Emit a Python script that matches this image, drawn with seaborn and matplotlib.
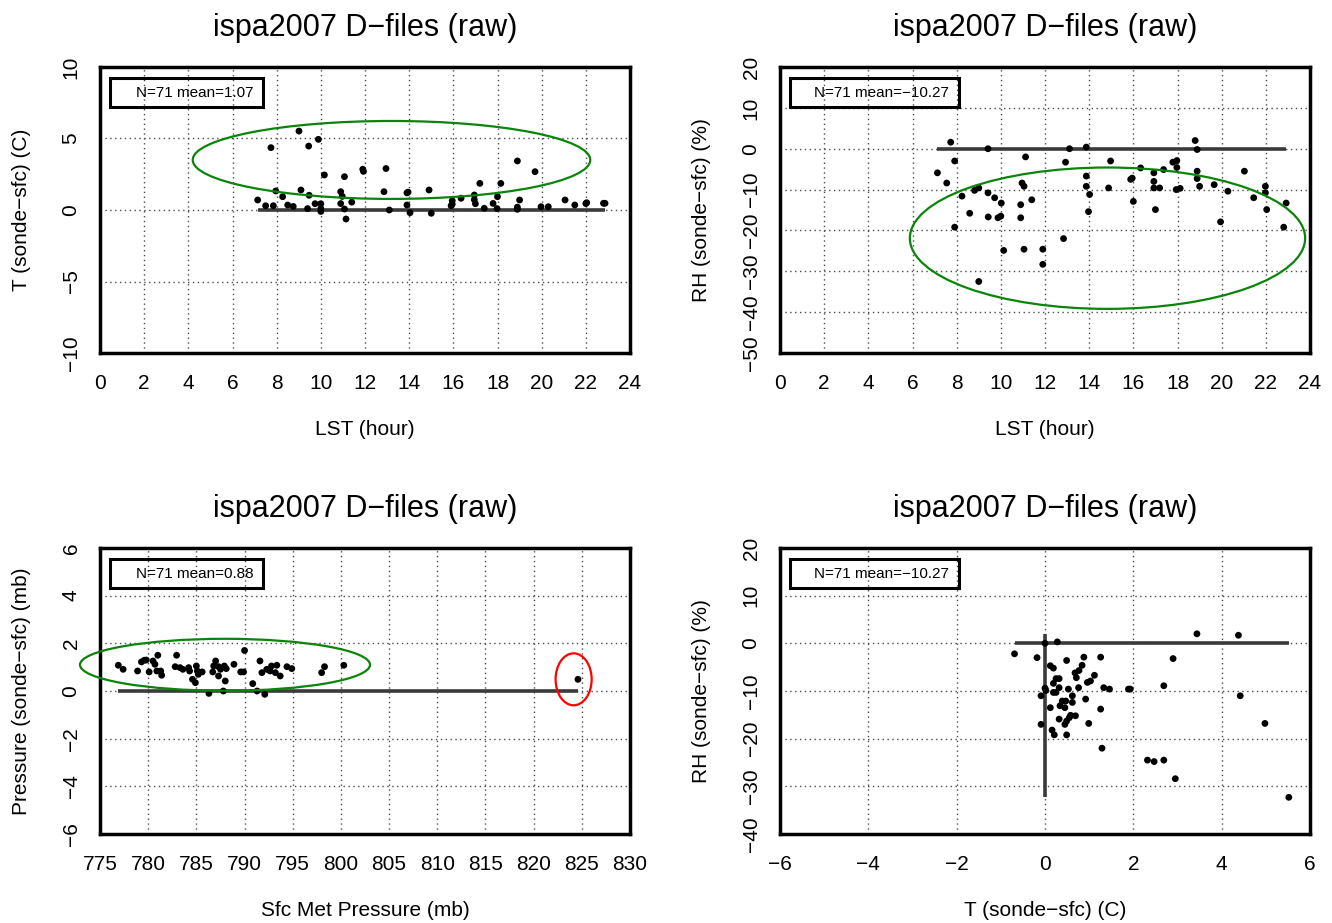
import numpy as np
import pandas as pd
import matplotlib
matplotlib.use("Agg")
import matplotlib.pyplot as plt
from matplotlib.patches import Ellipse, Rectangle
import seaborn as sns

# ---- data ----
# panel 1: T difference vs local solar time
t_hour = [7.14, 7.50, 7.74, 7.85, 7.96, 8.27, 8.50, 8.75, 9.01, 9.10, 9.40, 9.45, 9.47,
          9.74, 9.89, 10.00, 10.00, 10.00, 10.16, 10.90, 10.97, 10.90, 11.07, 11.07, 11.14,
          11.40, 11.90, 11.93, 12.86, 12.95, 13.10, 13.90, 13.95, 13.90, 14.04, 14.90, 15.00,
          15.90, 15.95, 15.95, 16.35, 16.95, 16.95, 17.00, 17.20, 17.40, 17.80, 18.00, 17.98,
          18.15, 18.90, 19.00, 18.90, 18.90, 19.70, 19.97, 20.30, 21.06, 21.50, 22.04, 22.00,
          22.87, 22.80]
t_diff = [0.70, 0.30, 4.36, 0.30, 1.33, 0.93, 0.35, 0.25, 5.52, 1.40, 0.10, 4.47, 1.03,
          0.44, 4.94, 0.44, 0.10, -0.10, 2.45, 1.28, 0.95, 0.45, 2.33, 0.07, -0.63,
          0.55, 2.85, 2.70, 1.28, 2.90, 0.00, 1.20, 1.25, 0.35, -0.19, 1.40, -0.23,
          0.30, 0.65, 0.40, 0.82, 1.05, 0.72, 0.44, 1.86, 0.12, 0.46, 0.93, 0.10,
          1.86, 3.43, 0.70, 0.20, 0.05, 2.68, 0.23, 0.23, 0.70, 0.35, 0.51, 0.45,
          0.47, 0.47]

# panel 2: RH difference vs local solar time
rh_hour = [7.73, 9.42, 7.91, 7.13, 7.55, 11.12, 8.24, 8.81, 9.00, 9.42, 9.72, 10.02, 8.59,
           9.43, 9.87, 10.00, 10.90, 10.90, 10.96, 11.05, 11.40, 7.91, 10.13, 11.05, 11.90,
           11.90, 9.00, 12.84, 12.93, 13.11, 13.87, 13.87, 13.87, 14.02, 13.97, 14.97, 14.88,
           15.88, 15.95, 16.00, 16.33, 16.93, 16.93, 16.93, 17.19, 17.00, 17.37, 17.79, 17.97,
           17.97, 17.94, 18.12, 18.80, 18.89, 18.89, 18.89, 19.00, 19.66, 19.95, 20.28, 21.03,
           21.45, 21.98, 21.98, 22.04, 22.92, 22.81]
rh_diff = [1.6, 0.0, -3.0, -5.9, -8.4, -2.0, -11.6, -10.2, -9.6, -10.8, -12.0, -13.3, -15.8,
           -16.7, -16.9, -16.5, -13.7, -16.9, -8.4, -9.2, -12.5, -19.2, -24.9, -24.6, -24.6,
           -28.3, -32.5, -22.0, -3.3, 0.0, 0.4, -6.7, -9.2, -11.2, -15.4, -3.0, -9.6,
           -7.5, -7.2, -12.9, -4.7, -5.9, -8.0, -9.6, -9.6, -14.9, -5.1, -3.3, -2.9,
           -4.6, -10.0, -9.7, 2.0, -0.2, -5.5, -7.3, -9.2, -8.8, -17.9, -10.4, -5.5,
           -12.0, -9.2, -10.8, -14.9, -13.3, -19.2]

# panel 3: pressure difference vs surface met pressure
sfc_pres = [776.9, 777.4, 778.9, 779.3, 779.6, 779.8, 780.1, 780.5, 780.7, 781.0, 780.9,
            781.3, 781.4, 782.95, 782.8, 783.3, 783.6, 784.2, 784.3, 784.6, 784.9, 785.0,
            785.1, 785.2, 785.6, 786.3, 787.0, 786.8, 787.3, 786.7, 787.3, 787.5, 787.9,
            788.1, 788.0, 787.8, 788.9, 789.6, 789.9, 790.0, 790.85, 791.3, 792.1, 791.6,
            791.8, 792.3, 792.65, 792.8, 793.2, 793.35, 793.7, 794.4, 794.9, 798.0, 798.3,
            800.3, 824.6]
pres_diff = [1.08, 0.91, 0.84, 1.22, 1.29, 1.30, 0.80, 1.26, 1.12, 1.50, 0.84,
             0.84, 0.66, 1.50, 1.02, 0.98, 0.91, 0.98, 0.84, 0.49, 0.35, 1.05,
             0.84, 0.70, 0.80, -0.10, 1.26, 1.05, 1.02, 0.80, 0.63, 0.91, 1.05,
             0.94, 0.42, 0.00, 1.12, 0.80, 0.80, 1.70, 0.31, 0.00, -0.14, 1.26,
             0.77, 0.91, 0.84, 1.05, 0.77, 1.08, 0.63, 1.02, 0.94, 0.77, 1.02,
             1.08, 0.49]

# panel 4: RH difference vs T difference
t4 = [-0.69, -0.18, 0.28, 0.00, 3.44, 4.38, 2.90, 2.69, 4.42, 4.98, 5.52, 2.32, 2.47, 2.69,
      2.95, 1.29, 1.26, 1.26, 0.99, 1.33, 1.46, 1.89, 1.93, 0.88, 0.49, 0.12, 0.19, 0.84,
      0.77, 0.68, 0.71, 1.12, 1.03, 0.96, 0.25, 0.32, 0.19, 0.32, 0.00, 0.02, -0.09, 0.19,
      0.25, 0.53, 0.76, 0.62, 0.92, 0.39, 0.47, 0.34, 0.45, 0.62, 0.12, 0.58, 0.69, 0.55,
      0.32, 0.49, 0.45, -0.09, 0.16, 0.21, 0.49]
rh4 = [-2.2, -3.0, 0.3, 0.0, 2.0, 1.7, -3.2, -8.9, -11.0, -16.8, -32.3, -24.5, -24.8, -24.5,
       -28.4, -22.0, -2.9, -13.8, -16.8, -9.3, -9.6, -9.6, -9.6, -2.9, -3.6, -4.7, -5.2, -4.6,
       -5.7, -6.2, -7.2, -6.7, -7.9, -8.2, -7.4, -7.4, -8.4, -9.3, -9.4, -9.9, -11.0, -10.3,
       -10.3, -9.6, -9.3, -11.0, -11.7, -12.1, -12.1, -13.1, -13.5, -12.4, -13.5, -15.1, -15.2, -15.6,
       -15.9, -16.3, -17.0, -17.0, -18.2, -19.2, -19.2]

title = "ispa2007 D\u2212files (raw)"
legend_text = ["N=71 mean=1.07", "N=71 mean=\u221210.27", "N=71 mean=0.88", "N=71 mean=\u221210.27"]

# hand-drawn highlight ellipses (centre x, centre y, width, height, colour) in data units
ellipses = {
    0: [(13.2, 3.5, 18.0, 5.45, "#0a840a")],
    1: [(14.83, -21.9, 17.9, 34.6, "#0a840a")],
    2: [(787.97, 1.1, 30.1, 2.18, "#0a840a"), (824.15, 0.49, 3.74, 2.18, "red")],
}

# ---- drawing ----
sns.set_style("white")
plt.rcParams['font.family'] = ['Liberation Sans', 'DejaVu Sans']
plt.rcParams['axes.unicode_minus'] = True
for k in ["text.color", "axes.labelcolor", "xtick.color", "ytick.color"]:
    plt.rcParams[k] = "black"

fig = plt.figure(figsize=(13.32, 9.23), dpi=100)
W, H = 1332, 923
boxes = [(100, 67), (780, 67), (100, 548), (780, 548)]
axes = [fig.add_axes([l / W, 1 - (t + 286) / H, 530 / W, 286 / H]) for l, t in boxes]

panels = [
    (t_hour, t_diff, "LST (hour)", "T (sonde\u2212sfc) (C)", (0, 24), np.arange(0, 25, 2), (-10, 10), np.arange(-10, 11, 5)),
    (rh_hour, rh_diff, "LST (hour)", "RH (sonde\u2212sfc) (%)", (0, 24), np.arange(0, 25, 2), (-50, 20), np.arange(-50, 21, 10)),
    (sfc_pres, pres_diff, "Sfc Met Pressure (mb)", "Pressure (sonde\u2212sfc) (mb)", (775, 830), np.arange(775, 831, 5), (-6, 6), np.arange(-6, 7, 2)),
    (t4, rh4, "T (sonde\u2212sfc) (C)", "RH (sonde\u2212sfc) (%)", (-6, 6), np.arange(-6, 7, 2), (-40, 20), np.arange(-40, 21, 10)),
]
box_right = [0.308, 0.337, 0.308, 0.337]
text_right = [0.289, 0.319, 0.289, 0.319]

for i, (ax, (x, y, xl, yl, xlim, xt, ylim, yt)) in enumerate(zip(axes, panels)):
    df = pd.DataFrame({"x": x, "y": y})
    ax.set_axisbelow(True)
    ax.grid(True, color="#4a4a4a", linestyle=(0, (1, 2.5)), linewidth=1)
    # zero reference line over the data range
    ax.hlines(0, df.x.min(), df.x.max(), color="#3a3a3a", linewidth=2.6, zorder=2)
    if i == 3:
        ax.vlines(0, df.y.min(), df.y.max(), color="#3a3a3a", linewidth=2.6, zorder=2)
    sns.scatterplot(data=df, x="x", y="y", ax=ax, color="black", s=24, edgecolor="none", linewidth=0, zorder=3)

    ax.set_xlim(*xlim)
    ax.set_ylim(*ylim)
    ax.set_xticks(xt)
    ax.set_yticks(yt)
    ax.tick_params(length=0, labelsize=15)
    ax.tick_params(axis="x", pad=15)
    ax.tick_params(axis="y", pad=14)
    for lab in ax.get_yticklabels():
        lab.set_rotation(90)
        lab.set_va("center")
    for s in ax.spines.values():
        s.set_visible(True)
        s.set_linewidth(2.5)
        s.set_color("black")

    ax.set_xlabel(xl, fontsize=15)
    ax.set_ylabel(yl, fontsize=15)
    ax.xaxis.set_label_coords(0.5, -0.235)
    ax.yaxis.set_label_coords(-0.13, 0.5)
    ax.set_title(title, fontsize=22, pad=22)

    # N / mean box
    ax.add_patch(Rectangle((0.019, 0.86), box_right[i] - 0.019, 0.10, transform=ax.transAxes,
                           fill=False, edgecolor="black", linewidth=2.2, zorder=4))
    ax.text(text_right[i], 0.91, legend_text[i], transform=ax.transAxes, ha="right", va="center",
            fontsize=11, zorder=5)

    for cx, cy, w, h, col in ellipses.get(i, []):
        ax.add_patch(Ellipse((cx, cy), w, h, fill=False, edgecolor=col, linewidth=1.6,
                             zorder=4, clip_on=False))

fig.savefig("out.png", dpi=100)
